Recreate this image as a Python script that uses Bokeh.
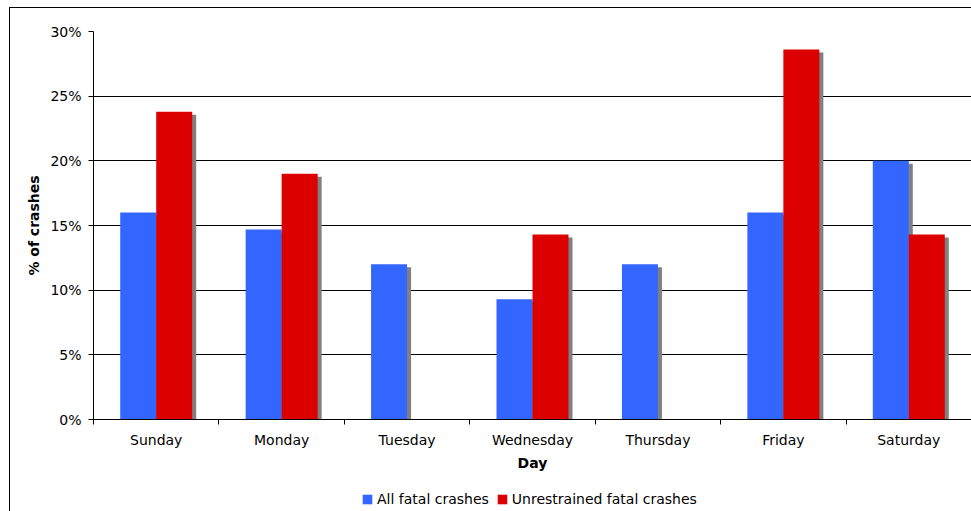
from bokeh.plotting import figure
from bokeh.layouts import column
from bokeh.models import (FixedTicker, PrintfTickFormatter, Legend, LegendItem,
                          ColumnDataSource)
from bokeh.embed import file_html
from bokeh.resources import INLINE

# ---- data ----
days = ["Sunday", "Monday", "Tuesday", "Wednesday", "Thursday", "Friday", "Saturday"]
all_fatal = [16.0, 14.7, 12.0, 9.3, 12.0, 16.0, 20.0]
unrestrained = [23.8, 19.0, 0.0, 14.3, 0.0, 28.6, 14.3]
y_ticks = [0, 5, 10, 15, 20, 25, 30]
series_names = ["All fatal crashes", "Unrestrained fatal crashes"]
x_title = "Day"
y_title = "% of crashes"

# ---- styles ----
colors = ["#3366FF", "#DD0000"]
shadow_color = "#808080"
FONT = "DejaVu Sans"
W = 961
ML, MT, MR, MB = 83, 23, 0, 60
FRAME_H = 388
H = MT + FRAME_H + MB
LEG_H = 503 - H
frame_w = W - ML - MR
n = len(days)
bw = 0.287
dx = 4 * n / frame_w            # 4px shadow offset right
dy = 3 * y_ticks[-1] / FRAME_H  # 3px shadow offset down

centers = [i + 0.5 for i in range(n)]
src = ColumnDataSource(dict(
    xb=[c - bw / 2 for c in centers],
    xr=[c + bw / 2 for c in centers],
    xbs=[c - bw / 2 + dx for c in centers],
    xrs=[c + bw / 2 + dx for c in centers],
    b=all_fatal,
    r=unrestrained,
    bs=[max(v - dy, 0) if v > 0 else 0 for v in all_fatal],
    rs=[max(v - dy, 0) if v > 0 else 0 for v in unrestrained],
))

p = figure(width=W, height=H, x_range=(0, n), y_range=(y_ticks[0], y_ticks[-1]),
           output_backend="svg", toolbar_location=None,
           min_border_left=ML, min_border_top=MT, min_border_right=MR,
           min_border_bottom=MB)
p.outline_line_color = None
p.background_fill_color = "white"
p.border_fill_color = "white"

# shadows, then bars
p.vbar(x="xbs", top="bs", bottom=0, width=bw, source=src, color=shadow_color, line_color=None)
p.vbar(x="xrs", top="rs", bottom=0, width=bw, source=src, color=shadow_color, line_color=None)
p.vbar(x="xb", top="b", bottom=0, width=bw, source=src, color=colors[0], line_color=None)
p.vbar(x="xr", top="r", bottom=0, width=bw, source=src, color=colors[1], line_color=None)

# grid
p.xgrid.visible = False
p.ygrid.grid_line_color = "black"
p.ygrid.grid_line_width = 1

# x axis
xa = p.xaxis[0]
xa.ticker = FixedTicker(ticks=centers, minor_ticks=list(range(n + 1)))
xa.major_label_overrides = {c: d for c, d in zip(centers, days)}
xa.major_tick_out = 0
xa.major_tick_in = 0
xa.minor_tick_out = 5
xa.minor_tick_in = 0
xa.minor_tick_line_color = "black"
xa.axis_line_color = "black"
xa.major_label_standoff = 7
xa.major_label_text_font = FONT
xa.major_label_text_font_size = "14px"
xa.major_label_text_color = "black"
xa.axis_label = x_title
xa.axis_label_text_font = FONT
xa.axis_label_text_font_size = "14px"
xa.axis_label_text_font_style = "bold"
xa.axis_label_standoff = 4
xa.axis_label_text_color = "black"

# y axis
ya = p.yaxis[0]
ya.ticker = FixedTicker(ticks=y_ticks)
ya.formatter = PrintfTickFormatter(format="%d%%")
ya.major_tick_out = 5
ya.major_tick_in = 0
ya.minor_tick_line_color = None
ya.axis_line_color = "black"
ya.major_label_standoff = 7
ya.major_label_text_font = FONT
ya.major_label_text_font_size = "14px"
ya.major_label_text_color = "black"
ya.axis_label = y_title
ya.axis_label_text_font = FONT
ya.axis_label_text_font_size = "14px"
ya.axis_label_text_font_style = "bold"
ya.axis_label_standoff = 5
ya.axis_label_text_color = "black"

# ---- legend strip ----
pl = figure(width=W, height=LEG_H, x_range=(0, 1), y_range=(0, 1),
            output_backend="svg", toolbar_location=None,
            x_axis_location=None, y_axis_location=None,
            min_border_left=0, min_border_right=0, min_border_top=0, min_border_bottom=0)
pl.outline_line_color = None
pl.grid.visible = False
pl.border_fill_color = "white"
# zero-height proxy renderers, only used for the legend swatches
lb = pl.vbar(x=[0.5], top=[0], bottom=0, width=0.1, color=colors[0], line_color=None)
lr = pl.vbar(x=[0.5], top=[0], bottom=0, width=0.1, color=colors[1], line_color=None)
legend = Legend(items=[LegendItem(label=series_names[0], renderers=[lb]),
                       LegendItem(label=series_names[1], renderers=[lr])],
                orientation="horizontal", location=(268, 4),
                glyph_width=12, glyph_height=12, label_standoff=4, spacing=7,
                padding=0, margin=0, border_line_color=None,
                background_fill_alpha=0,
                label_text_font=FONT, label_text_font_size="14px",
                label_text_color="black", label_height=12)
pl.add_layout(legend, "center")

layout = column(p, pl, spacing=0,
                styles={"margin-left": "9px", "margin-top": "7px",
                        "border-left": "1px solid black",
                        "border-top": "1px solid black"})

open("out.html", "w").write(file_html(layout, INLINE))
